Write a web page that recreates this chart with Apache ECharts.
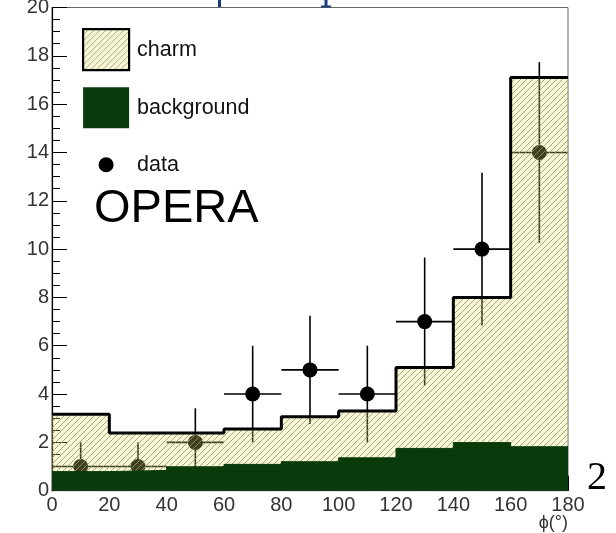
<!DOCTYPE html>
<html>
<head>
<meta charset="utf-8">
<script src="https://cdn.jsdelivr.net/npm/echarts@6/dist/echarts.min.js"></script>
<style>
html,body{margin:0;padding:0;background:#fff;}
#chart{width:616px;height:533px;}
</style>
</head>
<body>
<div id="chart"></div>
<script>
// ---- data ----
const binEdges = [0, 20, 40, 60, 80, 100, 120, 140, 160, 180];
// top of the stacked histogram (charm + background)
const charmTotal = [3.16, 2.39, 2.39, 2.55, 3.06, 3.30, 5.10, 8.00, 17.10];
const background = [0.79, 0.84, 0.99, 1.09, 1.20, 1.36, 1.75, 1.99, 1.82];
const dataCenters = [10, 30, 50, 70, 90, 110, 130, 150, 170];
const dataCounts = [1, 1, 2, 4, 5, 4, 7, 10, 14];
const dataErrors = [1.0, 1.0, 1.41, 2.0, 2.24, 2.0, 2.65, 3.16, 3.74];
const xTicks = [0, 20, 40, 60, 80, 100, 120, 140, 160, 180];
const yTicks = [0, 2, 4, 6, 8, 10, 12, 14, 16, 18, 20];

// hatch pattern for charm
function makeHatch() {
  const c = document.createElement('canvas');
  c.width = 6; c.height = 6;
  const g = c.getContext('2d');
  g.fillStyle = 'rgba(230,230,120,0.28)';
  g.fillRect(0, 0, 6, 6);
  g.strokeStyle = 'rgba(150,150,100,0.9)';
  g.lineWidth = 0.9;
  g.beginPath();
  g.moveTo(-1, 7); g.lineTo(7, -1);
  g.moveTo(-1, 1); g.lineTo(1, -1);
  g.moveTo(5, 7); g.lineTo(7, 5);
  g.stroke();
  return c;
}
const hatch = { image: makeHatch(), repeat: 'repeat' };
const bgGreen = '#093a0b';

function stepData(vals) {
  return binEdges.map((e, i) => [e, vals[Math.min(i, vals.length - 1)]]);
}
const halfW = (binEdges[1] - binEdges[0]) / 2;
const errData = dataCenters.map((x, i) => [x, dataCounts[i], x - halfW, x + halfW,
  dataCounts[i] - dataErrors[i], dataCounts[i] + dataErrors[i]]);

const FONT = 'Liberation Sans, Arial, sans-serif';
const chart = echarts.init(document.getElementById('chart'), null, { renderer: 'canvas' });
chart.setOption({
  animation: false,
  backgroundColor: '#fff',
  grid: { left: 52, right: 48, top: 7.5, bottom: 42.3, containLabel: false, outerBoundsMode: 'none',
          show: true, borderColor: '#666', borderWidth: 1, backgroundColor: 'transparent' },
  xAxis: {
    type: 'value', min: xTicks[0], max: xTicks[xTicks.length - 1], interval: xTicks[1] - xTicks[0],
    name: 'ϕ(°)', nameLocation: 'end', nameGap: 0, nameMoveOverlap: false,
    nameTextStyle: { fontFamily: FONT, fontSize: 18, color: '#333', align: 'right', verticalAlign: 'top', padding: [23, 0, 0, 0] },
    axisLine: { show: true, lineStyle: { color: '#000', width: 1 } },
    axisTick: { show: true, inside: true, length: 15, lineStyle: { color: '#000' } },
    minorTick: { show: true, splitNumber: 4, length: 8, lineStyle: { color: '#000' } },
    axisLabel: { fontFamily: FONT, fontSize: 20, color: '#333', margin: 5, showMinLabel: true, showMaxLabel: true },
    splitLine: { show: false }
  },
  yAxis: {
    type: 'value', min: yTicks[0], max: yTicks[yTicks.length - 1], interval: yTicks[1] - yTicks[0],
    axisLine: { show: true, lineStyle: { color: '#000', width: 1.2 } },
    axisTick: { show: true, inside: true, length: 15, lineStyle: { color: '#000' } },
    minorTick: { show: true, splitNumber: 4, length: 8, lineStyle: { color: '#000' } },
    axisLabel: { fontFamily: FONT, fontSize: 20, color: '#333', margin: 3, showMinLabel: true, showMaxLabel: true },
    splitLine: { show: false }
  },
  legend: {
    left: 82, top: 28, padding: 0, orient: 'vertical', itemWidth: 46, itemHeight: 41, itemGap: 16,
    selectedMode: false,
    textStyle: { fontFamily: FONT, fontSize: 21.5, color: '#111', padding: [3, 0, 0, 3] },
    data: [
      { name: 'charm', icon: 'rect', itemStyle: { color: hatch, borderColor: '#000', borderWidth: 2.2, opacity: 1 } },
      { name: 'background', icon: 'rect', itemStyle: { color: bgGreen, borderColor: bgGreen, borderWidth: 0 } },
      { name: 'data', icon: 'path://M0,0M46,41M15.5,20.5a7.5,7.5 0 1,0 15,0a7.5,7.5 0 1,0 -15,0z', itemStyle: { color: '#000', borderWidth: 0, opacity: 1 } }
    ]
  },
  graphic: [
    { type: 'text', left: 94, top: 186, z: 10, style: { text: 'OPERA', fontFamily: FONT, fontSize: 47, fill: '#000' } },
    { type: 'text', left: 587, top: 458, z: 10, style: { text: '2', fontFamily: 'Liberation Serif, Times New Roman, serif', fontSize: 40, fill: '#000' } },
    { type: 'rect', shape: { x: 218, y: 0, width: 3, height: 7 }, style: { fill: '#1f3a7a' } },
    { type: 'rect', shape: { x: 324.5, y: 0, width: 3, height: 7 }, style: { fill: '#1f3a7a' } },
    { type: 'rect', shape: { x: 321, y: 5.5, width: 10, height: 2 }, style: { fill: '#1f3a7a' } }
  ],
  series: [
    {
      name: 'data-errors', type: 'custom', z: 1, silent: true,
      data: errData,
      renderItem: function (params, api) {
        const xc = api.value(0), y = api.value(1);
        const pL = api.coord([api.value(2), y]), pR = api.coord([api.value(3), y]);
        const pT = api.coord([xc, api.value(5)]), pB = api.coord([xc, api.value(4)]);
        return {
          type: 'group', children: [
            { type: 'line', shape: { x1: pL[0], y1: pL[1], x2: pR[0], y2: pR[1] }, style: { stroke: '#000', lineWidth: 1.6 } },
            { type: 'line', shape: { x1: pT[0], y1: pT[1], x2: pB[0], y2: pB[1] }, style: { stroke: '#000', lineWidth: 1.6 } }
          ]
        };
      }
    },
    {
      name: 'data', type: 'scatter', z: 2, symbol: 'circle', symbolSize: 15,
      itemStyle: { color: '#000', opacity: 1 },
      data: dataCenters.map((x, i) => [x, dataCounts[i]])
    },
    {
      name: 'charm', type: 'line', z: 3, step: 'end', symbol: 'none',
      lineStyle: { color: '#000', width: 3 },
      itemStyle: { color: '#000' },
      areaStyle: { color: hatch, opacity: 1 },
      data: stepData(charmTotal)
    },
    {
      name: 'background', type: 'line', z: 4, step: 'end', symbol: 'none',
      lineStyle: { color: bgGreen, width: 1 },
      itemStyle: { color: bgGreen },
      areaStyle: { color: bgGreen, opacity: 1 },
      data: stepData(background)
    }
  ]
});
</script>
</body>
</html>
